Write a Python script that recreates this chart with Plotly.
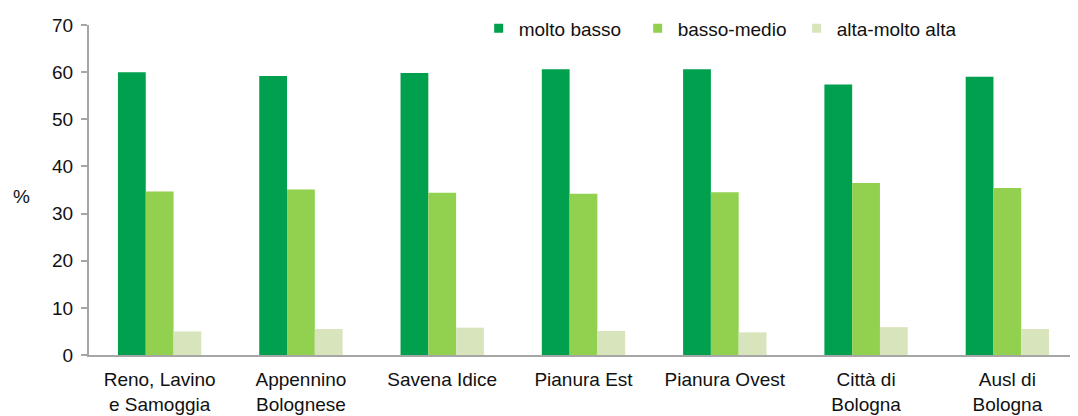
import plotly.graph_objects as go

# Distretti (x categories) and shares per risk class (%)
distretti = ["Reno, Lavino<br>e Samoggia", "Appennino<br>Bolognese", "Savena Idice",
             "Pianura Est", "Pianura Ovest", "Città di<br>Bologna", "Ausl di<br>Bologna"]
molto_basso = [60.0, 59.2, 59.8, 60.6, 60.6, 57.4, 59.0]
basso_medio = [34.7, 35.1, 34.4, 34.2, 34.5, 36.5, 35.4]
alta_molto_alta = [5.0, 5.5, 5.8, 5.1, 4.8, 5.9, 5.5]

series = [
    ("molto basso", molto_basso, "#00A04F"),
    ("basso-medio", basso_medio, "#92D050"),
    ("alta-molto alta", alta_molto_alta, "#D8E4BC"),
]

fig = go.Figure()
for name, vals, col in series:
    fig.add_trace(go.Bar(x=distretti, y=vals, name=name, marker_color=col,
                         marker_line_width=0, showlegend=False))
# small square legend markers (like the original)
for name, vals, col in series:
    fig.add_trace(go.Scatter(x=[None], y=[None], mode="markers", name=name,
                             marker=dict(symbol="square", size=9, color=col)))

# page body has an 8px margin, so the figure is sized to fit the window
fig.update_layout(
    width=1070, height=408,
    margin=dict(l=81, r=0, t=17, b=61, autoexpand=False),
    plot_bgcolor="white", paper_bgcolor="white",
    font=dict(family="Liberation Sans, Arial", size=19, color="#111"),
    barmode="group", bargap=0.41, bargroupgap=0,
    legend=dict(orientation="h", x=0.394, y=0.99, xanchor="left", yanchor="middle",
                font=dict(size=19), bgcolor="rgba(0,0,0,0)",
                entrywidth=114, entrywidthmode="pixels", itemwidth=30),
)
fig.update_yaxes(range=[0, 70], dtick=10, showgrid=False, zeroline=False,
                 showline=True, linecolor="#A6A6A6", linewidth=2,
                 ticks="outside", ticklen=6, tickcolor="#A6A6A6", tickwidth=2,
                 ticklabelstandoff=4)
fig.update_xaxes(showgrid=False, showline=True, linecolor="#A6A6A6", linewidth=2,
                 ticks="", tickangle=0, ticklabelstandoff=6)
fig.add_annotation(text="%", xref="paper", yref="paper", x=-0.068, y=0.479,
                   showarrow=False, font=dict(size=19), xanchor="center")

fig.write_html("out.html")
